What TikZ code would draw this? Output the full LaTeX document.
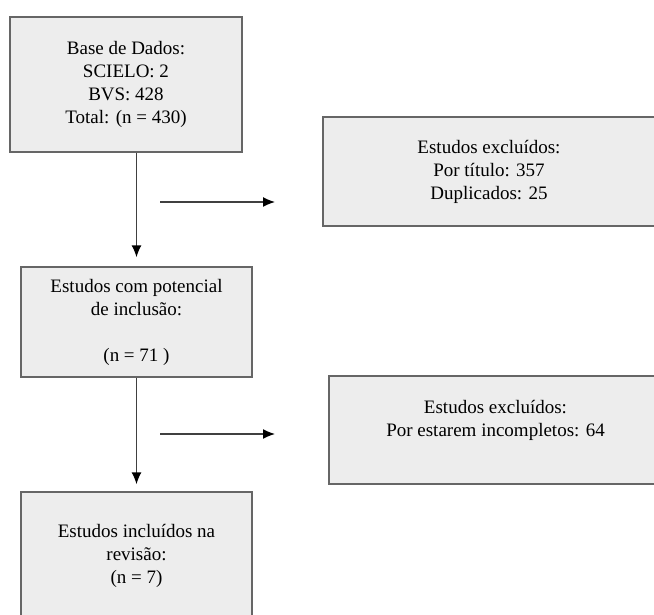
\documentclass[tikz,border=0pt]{standalone}
\usepackage{fontspec}
\setmainfont{Liberation Serif}
\usetikzlibrary{arrows.meta}
\begin{document}
\begin{tikzpicture}[x=1pt,y=1pt,
    box/.style={draw=black!60, line width=1.3pt, fill=black!7, rectangle, inner sep=0pt,
        align=center, font=\fontsize{19}{23}\selectfont},
    flow/.style={draw=black!75, line width=1.4pt, -{Latex[length=12pt,width=10pt,black]}}]
    \useasboundingbox (0,0) rectangle (654,615);
    \clip (0,0) rectangle (654,615);

    \node [box, minimum width=232pt, minimum height=135pt] (base) at (126,530.5)
        {Base de Dados:\\SCIELO: 2\\BVS: 428\\Total: (n = 430)};
    \node [box, minimum width=231pt, minimum height=110pt] (potencial) at (136.5,293)
        {Estudos com potencial\\de inclusão:\\[23pt](n = 71 )};
    \node [box, minimum width=231pt, minimum height=128pt] (incluidos) at (136.5,59)
        {Estudos incluídos na\\revisão:\\(n = 7)};

    \node [box, minimum width=332pt, minimum height=109pt] (excluidos1) at (489,443.5)
        {Estudos excluídos:\\Por título: 357\\Duplicados: 25};
    \node [box, minimum width=333pt, minimum height=108pt] (excluidos2) at (495.5,185)
        {Estudos excluídos:\\Por estarem incompletos: 64\\\mbox{}};

    % setas verticais
    \draw [flow, shorten >=9pt] (base.south -| potencial.north) -- (potencial.north);
    \draw [flow, shorten >=7pt] (potencial.south) -- (incluidos.north);

    % setas para os excluidos
    \coordinate (s1) at (160,413);
    \coordinate (t1) at (275,413);
    \coordinate (s2) at (160,181);
    \coordinate (t2) at (275,181);
    \draw [flow] (s1) -- (t1);
    \draw [flow] (s2) -- (t2);
\end{tikzpicture}
\end{document}
